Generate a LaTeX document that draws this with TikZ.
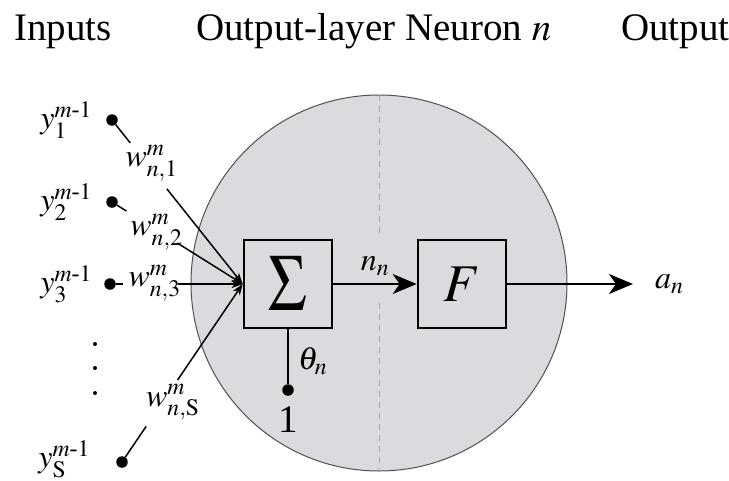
\documentclass[tikz,border=0pt]{standalone}
\usepackage{amsmath}
\usepackage{mathptmx}
\usepackage{fontspec}
\setmainfont{Liberation Serif}
\usetikzlibrary{calc,arrows.meta,positioning}
\definecolor{cellbg}{HTML}{DADBDE}
\definecolor{rimx}{HTML}{505050}
\definecolor{dashx}{HTML}{A6A6A6}
\tikzset{
  ar/.style={-{Stealth[length=24pt,width=20pt,inset=7pt]},line width=2pt},
  arin/.style={-{Stealth[length=11pt,width=8pt,inset=3pt]},line width=1.5pt},
  box/.style={draw,line width=2.7pt,minimum size=88pt,inner sep=0pt},
  pin/.style={circle,fill,inner sep=0pt,minimum size=11.5pt},
  lab/.style={inner sep=0pt,font=\fontsize{39}{41}\selectfont},
  mlab/.style={inner sep=0pt,font=\fontsize{32}{34}\selectfont},
  wire/.style={line width=1.5pt}
}

\begin{document}
\begin{tikzpicture}[x=1pt,y=-1pt]
\useasboundingbox (0,0) rectangle (729,480);
% neuron body
\node[circle,draw=rimx,line width=1pt,fill=cellbg,minimum size=376pt,inner sep=0pt] (cell) at (379,283) {};
\draw[dashx,line width=1pt,dash pattern=on 6pt off 5pt] (cell.north) -- (379,236);
\draw[dashx,line width=1pt,dash pattern=on 6pt off 5pt] (379,303) -- (cell.south);

% headings
\node[lab,anchor=base west] (hin) at (14,40) {Inputs};
\node[lab,anchor=base west] (hcell) at (196,40) {Output-layer Neuron $n$};
\node[lab,anchor=base west] (hout) at (621,40) {Output};

% sum and transfer blocks
\node[box,font=\fontsize{70}{70}\selectfont] (sum) at (288,284) {\scalebox{0.92}[1.15]{$\Sigma$}};
\node[box,font=\fontsize{53}{53}\selectfont] (act) at (462,284) {$F$};
\draw[ar] (sum) -- node[mlab,above=7pt]{$n_n$} (act);
\coordinate (outtip) at (633,284);
\draw[ar,line width=2.5pt] (act) -- (outtip);
\node[mlab,right=22pt of outtip] (an) {$a_n$};

% bias
\node[pin] (one) at (288,390) {};
\draw[line width=2pt] (sum) -- (one);
\node[mlab,anchor=west] (bias) at (298,361) {$\theta_n$};
\node[lab,below=11pt of one] (onelab) {1};

% inputs
\node[pin] (x1) at (112,120) {};
\node[pin] (x2) at (112,202) {};
\node[pin] (x3) at (110,284) {};
\node[pin] (xs) at (122,462) {};
\node[mlab,left=14pt of x1] (y1) {$y^{m\text{-}1}_1$};
\node[mlab,left=14pt of x2] (y2) {$y^{m\text{-}1}_2$};
\node[mlab,left=12pt of x3] (y3) {$y^{m\text{-}1}_3$};
\node[mlab,left=26pt of xs,yshift=3pt] (ys) {$y^{m\text{-}1}_{\mathrm{S}}$};
\foreach \yy in {344,368,393}
  \fill (95,\yy) circle (2pt);

% weighted connections
\draw[wire] (x1) -- ($(x1)!.14!(sum.west)$);
\draw[arin] ($(x1)!.42!(sum.west)$) -- (sum.west);
\node[mlab] (w1) at ($(x1)!.28!(sum.west)+(3,-3)$) {$w^m_{n,1}$};

\draw[wire] (x2) -- ($(x2)!.11!(sum.west)$);
\draw[arin] ($(x2)!.5!(sum.west)$) -- (sum.west);
\node[mlab] (w2) at ($(x2)!.34!(sum.west)+(0,2)$) {$w^m_{n,2}$};

\draw[wire] (x3) -- ($(x3)!.1!(sum.west)$);
\draw[arin] ($(x3)!.51!(sum.west)$) -- (sum.west);
\node[mlab] (w3) at ($(x3)!.336!(sum.west)+(0,-1)$) {$w^m_{n,3}$};

\draw[wire] (xs) -- ($(xs)!.2!(sum.west)$);
\draw[arin] ($(xs)!.46!(sum.west)$) -- (sum.west);
\node[mlab] (ws) at ($(xs)!.33!(sum.west)+(11,-1)$) {$w^m_{n,\mathrm{S}}$};
\end{tikzpicture}
\end{document}
